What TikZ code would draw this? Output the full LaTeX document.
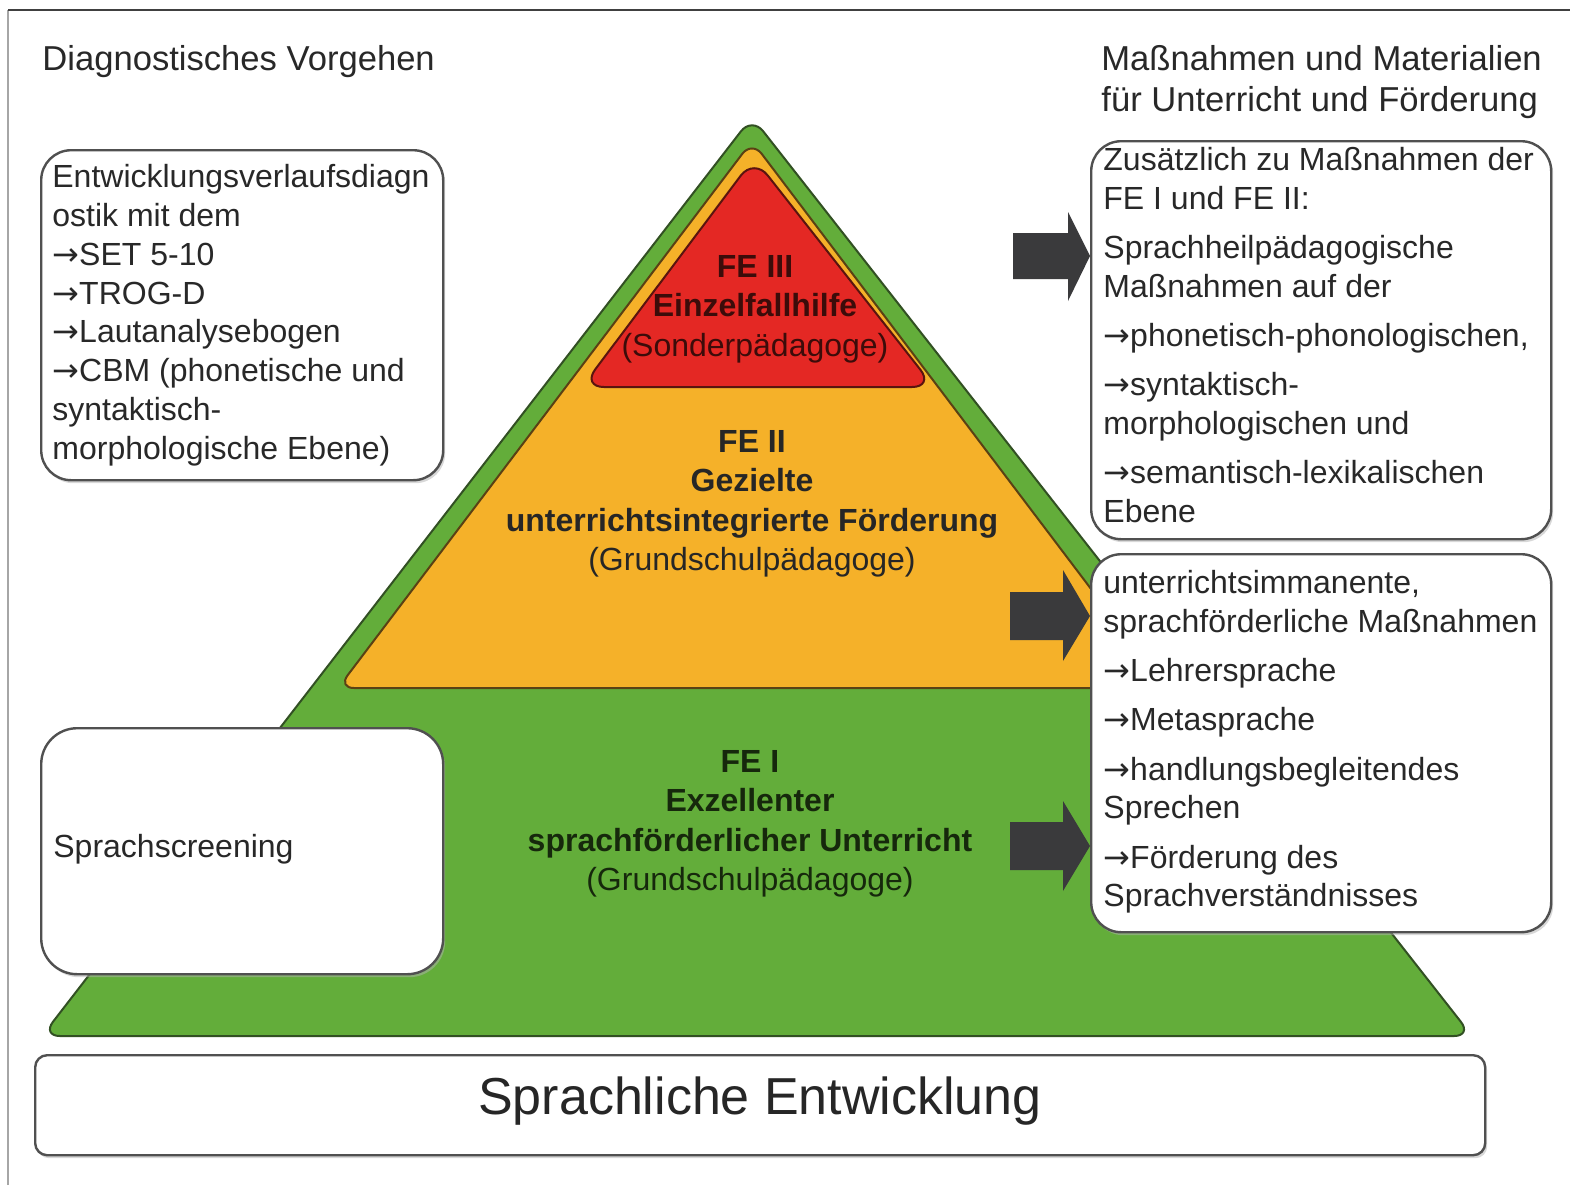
\documentclass[tikz,border=0pt]{standalone}
\usepackage{fontspec}
\setmainfont{Liberation Sans}
\newfontfamily\arrfont{DejaVu Sans}
\newcommand{\ra}{{\arrfont →}}
\usetikzlibrary{shadows}
\definecolor{pgreen}{RGB}{99,173,58}
\definecolor{pgreenD}{RGB}{50,80,35}
\definecolor{porange}{RGB}{245,177,41}
\definecolor{porangeD}{RGB}{90,65,20}
\definecolor{pred}{RGB}{228,40,36}
\definecolor{predD}{RGB}{90,20,15}
\definecolor{arrowc}{RGB}{58,58,60}
\definecolor{boxline}{RGB}{80,80,80}
\definecolor{txt}{RGB}{40,40,40}
\definecolor{redtxt}{RGB}{60,12,10}
\definecolor{greentxt}{RGB}{22,40,12}
\begin{document}
\begin{tikzpicture}[x=0.5pt,y=-0.5pt,
  box/.style={draw=boxline, fill=white, line width=1.2pt, rounded corners=15pt, anchor=north west, inner sep=0pt,
    drop shadow={shadow xshift=1pt, shadow yshift=-1.5pt, fill=gray!60, opacity=0.5}},
  boxtxt/.style={anchor=north west, align=left, inner sep=0pt, text=txt, font=\fontsize{16}{19.4}\selectfont},
  ttl/.style={anchor=north west, align=left, inner sep=0pt, text=txt, font=\fontsize{17.3}{20.6}\selectfont},
  pyrtxt/.style={anchor=north, align=center, inner sep=0pt, font=\fontsize{16}{19.7}\selectfont},
  blockarrow/.style={fill=arrowc}
]
\useasboundingbox (0,0) rectangle (1570,1185);
\fill[white] (0,0) rectangle (1570,1185);
% frame
\draw[gray!70, line width=0.8pt] (8,1185) -- (8,10);
\draw[black!75, line width=1.1pt] (8,10) -- (1570,10);

% pyramid layers
\filldraw[fill=pgreen, draw=pgreenD, line width=1pt, rounded corners=9pt]
  (757,1036) -- (42,1036) -- (752,117) -- (1472,1036) -- cycle;
\filldraw[fill=porange, draw=porangeD, line width=1pt, rounded corners=8pt]
  (752,688) -- (338,688) -- (752,141) -- (1166,688) -- cycle;
\filldraw[fill=pred, draw=predD, line width=1pt, rounded corners=11pt]
  (756,387) -- (582,387) -- (754,158) -- (934,387) -- cycle;

% pyramid texts
\node[pyrtxt, text=redtxt] (fe3) at (755,255)
  {\textbf{FE III}\\ \textbf{Einzelfallhilfe}\\ (Sonderpädagoge)};
\node[pyrtxt, text=black!85] (fe2) at (752,430)
  {\textbf{FE II}\\ \textbf{Gezielte}\\ \textbf{unterrichtsintegrierte Förderung}\\ (Grundschulpädagoge)};
\node[pyrtxt, text=greentxt] (fe1) at (750,750)
  {\textbf{FE I}\\ \textbf{Exzellenter}\\ \textbf{sprachförderlicher Unterricht}\\ (Grundschulpädagoge)};

% titles
\node[ttl] (tl) at (42,45) {Diagnostisches Vorgehen};
\node[ttl] (tr) at (1101,45) {Maßnahmen und Materialien\\für Unterricht und Förderung};

% left boxes
\node[box, minimum width=201pt, minimum height=165pt] (diag) at (40,149) {};
\node[boxtxt] (diagt) at (52,164)
  {Entwicklungsverlaufsdiagn\\ostik mit dem\\\ra SET 5-10\\\ra TROG-D\\\ra Lautanalysebogen\\\ra CBM (phonetische und\\syntaktisch-\\morphologische Ebene)};
\node[box, minimum width=201pt, minimum height=123pt, rounded corners=18pt] (screen) at (40,727) {};
\node[boxtxt, anchor=west] (screent) at (53,849) {Sprachscreening};

% right boxes
\node[box, minimum width=230pt, minimum height=199pt] (r1) at (1090,140) {};
\node[boxtxt] (r1t) at (1103,147)
  {Zusätzlich zu Maßnahmen der\\FE I und FE II:\\[5.2pt]Sprachheilpädagogische\\Maßnahmen auf der\\[5.2pt]\ra phonetisch-phonologischen,\\[5.2pt]\ra syntaktisch-\\morphologischen und\\[5.2pt]\ra semantisch-lexikalischen\\Ebene};
\node[box, minimum width=230pt, minimum height=189pt] (r2) at (1090,553) {};
\node[boxtxt] (r2t) at (1103,570)
  {unterrichtsimmanente,\\sprachförderliche Maßnahmen\\[5.2pt]\ra Lehrersprache\\[5.2pt]\ra Metasprache\\[5.2pt]\ra handlungsbegleitendes\\Sprechen\\[5.2pt]\ra Förderung des\\Sprachverständnisses};

% bottom box
\node[box, minimum width=725pt, minimum height=50pt, rounded corners=6pt] (base) at (34,1054) {};
\node[inner sep=0pt, text=black!85, font=\fontsize{26}{30}\selectfont] (baset) at (760,1101) {Sprachliche Entwicklung};

% block arrows
\fill[blockarrow] (1013,233) -- (1068,233) -- (1068,212) -- (r1.west |- 0,256) -- (1068,301) -- (1068,279) -- (1013,279) -- cycle;
\fill[blockarrow] (1010,592) -- (1063,592) -- (1063,570) -- (r2.west |- 0,616) -- (1063,661) -- (1063,640) -- (1010,640) -- cycle;
\fill[blockarrow] (1010,822) -- (1063,822) -- (1063,801) -- (r2.west |- 0,846) -- (1063,891) -- (1063,870) -- (1010,870) -- cycle;
\end{tikzpicture}
\end{document}
